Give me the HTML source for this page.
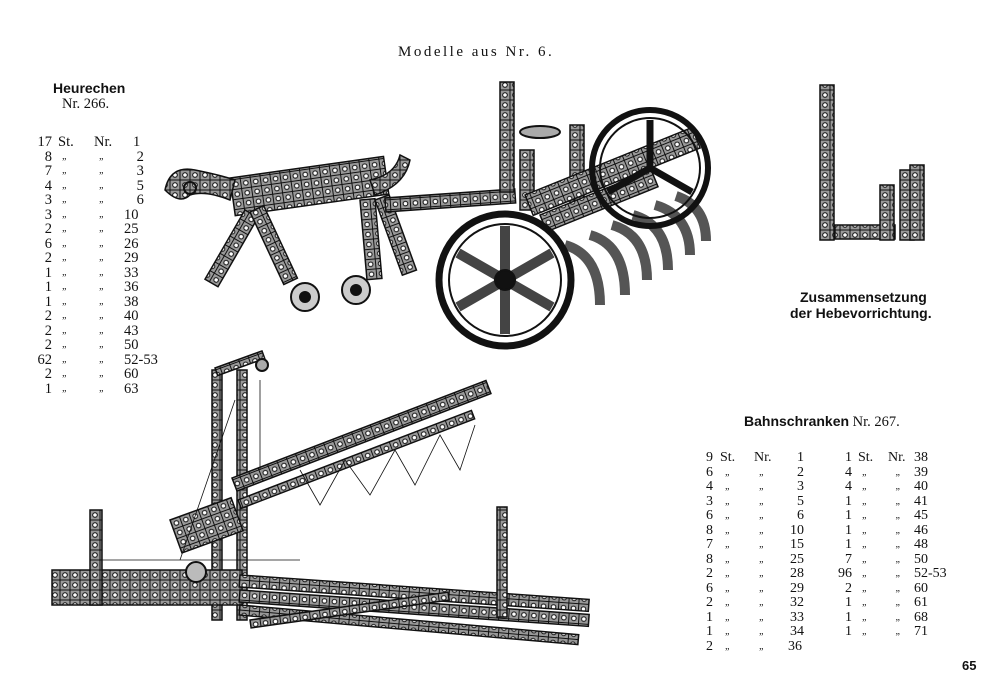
<!DOCTYPE html>
<html><head><meta charset="utf-8"><style>
body{margin:0;background:#fff;width:1000px;height:700px;position:relative;overflow:hidden;font-family:"Liberation Serif",serif;color:#111}
.t{position:absolute;white-space:pre;font-size:14.5px}
.b{font-family:"Liberation Sans",sans-serif;font-weight:bold}
table{position:absolute;border-collapse:collapse;font-size:14.5px}
td{padding:0;height:14.5px;line-height:14.5px}
.q{font-size:10px;font-style:italic}
</style></head><body>
<div class="t" style="left:398px;top:44px;letter-spacing:2.5px;font-size:15px">Modelle aus Nr. 6.</div>
<div class="t b" style="left:53px;top:80px;font-size:14px">Heurechen</div>
<div class="t" style="left:62px;top:96px">Nr. 266.</div>
<table style="left:34px;top:135px">
<tr><td style="width:18px;text-align:right">17</td><td style="width:36px;padding-left:6px">St.</td><td style="width:30px">Nr.</td><td style="padding-left:9px">1</td></tr>
<tr><td align=right>8</td><td class=q style="padding-left:10px">„</td><td class=q>&nbsp;&nbsp;„</td><td style="padding-left:9px">&nbsp;2</td></tr>
<tr><td align=right>7</td><td class=q style="padding-left:10px">„</td><td class=q>&nbsp;&nbsp;„</td><td style="padding-left:9px">&nbsp;3</td></tr>
<tr><td align=right>4</td><td class=q style="padding-left:10px">„</td><td class=q>&nbsp;&nbsp;„</td><td style="padding-left:9px">&nbsp;5</td></tr>
<tr><td align=right>3</td><td class=q style="padding-left:10px">„</td><td class=q>&nbsp;&nbsp;„</td><td style="padding-left:9px">&nbsp;6</td></tr>
<tr><td align=right>3</td><td class=q style="padding-left:10px">„</td><td class=q>&nbsp;&nbsp;„</td><td>10</td></tr>
<tr><td align=right>2</td><td class=q style="padding-left:10px">„</td><td class=q>&nbsp;&nbsp;„</td><td>25</td></tr>
<tr><td align=right>6</td><td class=q style="padding-left:10px">„</td><td class=q>&nbsp;&nbsp;„</td><td>26</td></tr>
<tr><td align=right>2</td><td class=q style="padding-left:10px">„</td><td class=q>&nbsp;&nbsp;„</td><td>29</td></tr>
<tr><td align=right>1</td><td class=q style="padding-left:10px">„</td><td class=q>&nbsp;&nbsp;„</td><td>33</td></tr>
<tr><td align=right>1</td><td class=q style="padding-left:10px">„</td><td class=q>&nbsp;&nbsp;„</td><td>36</td></tr>
<tr><td align=right>1</td><td class=q style="padding-left:10px">„</td><td class=q>&nbsp;&nbsp;„</td><td>38</td></tr>
<tr><td align=right>2</td><td class=q style="padding-left:10px">„</td><td class=q>&nbsp;&nbsp;„</td><td>40</td></tr>
<tr><td align=right>2</td><td class=q style="padding-left:10px">„</td><td class=q>&nbsp;&nbsp;„</td><td>43</td></tr>
<tr><td align=right>2</td><td class=q style="padding-left:10px">„</td><td class=q>&nbsp;&nbsp;„</td><td>50</td></tr>
<tr><td align=right>62</td><td class=q style="padding-left:10px">„</td><td class=q>&nbsp;&nbsp;„</td><td>52-53</td></tr>
<tr><td align=right>2</td><td class=q style="padding-left:10px">„</td><td class=q>&nbsp;&nbsp;„</td><td>60</td></tr>
<tr><td align=right>1</td><td class=q style="padding-left:10px">„</td><td class=q>&nbsp;&nbsp;„</td><td>63</td></tr>
</table>

<div class="t b" style="left:800px;top:289px;font-size:14px">Zusammensetzung</div>
<div class="t b" style="left:790px;top:305px;font-size:14px">der Hebevorrichtung.</div>
<div class="t" style="left:744px;top:413px"><span class="b" style="font-size:14px">Bahnschranken</span> Nr. 267.</div>

<table style="left:706px;top:451px;font-size:14px">
<tr><td style="width:14px">9</td><td style="width:34px">St.</td><td style="width:30px">Nr.</td><td style="width:20px;text-align:right">1</td></tr>
<tr><td>6</td><td class=q>&nbsp;&nbsp;„</td><td class=q>&nbsp;&nbsp;„</td><td align=right>2</td></tr>
<tr><td>4</td><td class=q>&nbsp;&nbsp;„</td><td class=q>&nbsp;&nbsp;„</td><td align=right>3</td></tr>
<tr><td>3</td><td class=q>&nbsp;&nbsp;„</td><td class=q>&nbsp;&nbsp;„</td><td align=right>5</td></tr>
<tr><td>6</td><td class=q>&nbsp;&nbsp;„</td><td class=q>&nbsp;&nbsp;„</td><td align=right>6</td></tr>
<tr><td>8</td><td class=q>&nbsp;&nbsp;„</td><td class=q>&nbsp;&nbsp;„</td><td align=right>10</td></tr>
<tr><td>7</td><td class=q>&nbsp;&nbsp;„</td><td class=q>&nbsp;&nbsp;„</td><td align=right>15</td></tr>
<tr><td>8</td><td class=q>&nbsp;&nbsp;„</td><td class=q>&nbsp;&nbsp;„</td><td align=right>25</td></tr>
<tr><td>2</td><td class=q>&nbsp;&nbsp;„</td><td class=q>&nbsp;&nbsp;„</td><td align=right>28</td></tr>
<tr><td>6</td><td class=q>&nbsp;&nbsp;„</td><td class=q>&nbsp;&nbsp;„</td><td align=right>29</td></tr>
<tr><td>2</td><td class=q>&nbsp;&nbsp;„</td><td class=q>&nbsp;&nbsp;„</td><td align=right>32</td></tr>
<tr><td>1</td><td class=q>&nbsp;&nbsp;„</td><td class=q>&nbsp;&nbsp;„</td><td align=right>33</td></tr>
<tr><td>1</td><td class=q>&nbsp;&nbsp;„</td><td class=q>&nbsp;&nbsp;„</td><td align=right>34</td></tr>
<tr><td>2</td><td class=q>&nbsp;&nbsp;„</td><td class=q>&nbsp;&nbsp;„</td><td style="padding-left:4px">36</td></tr>
</table>
<table style="left:836px;top:451px;font-size:14px">
<tr><td style="width:16px;text-align:right">1</td><td style="width:30px;padding-left:6px">St.</td><td style="width:26px">Nr.</td><td>38</td></tr>
<tr><td align=right>4</td><td class=q style="padding-left:10px">„</td><td class=q>&nbsp;&nbsp;&nbsp;„</td><td>39</td></tr>
<tr><td align=right>4</td><td class=q style="padding-left:10px">„</td><td class=q>&nbsp;&nbsp;&nbsp;„</td><td>40</td></tr>
<tr><td align=right>1</td><td class=q style="padding-left:10px">„</td><td class=q>&nbsp;&nbsp;&nbsp;„</td><td>41</td></tr>
<tr><td align=right>1</td><td class=q style="padding-left:10px">„</td><td class=q>&nbsp;&nbsp;&nbsp;„</td><td>45</td></tr>
<tr><td align=right>1</td><td class=q style="padding-left:10px">„</td><td class=q>&nbsp;&nbsp;&nbsp;„</td><td>46</td></tr>
<tr><td align=right>1</td><td class=q style="padding-left:10px">„</td><td class=q>&nbsp;&nbsp;&nbsp;„</td><td>48</td></tr>
<tr><td align=right>7</td><td class=q style="padding-left:10px">„</td><td class=q>&nbsp;&nbsp;&nbsp;„</td><td>50</td></tr>
<tr><td align=right>96</td><td class=q style="padding-left:10px">„</td><td class=q>&nbsp;&nbsp;&nbsp;„</td><td>52-53</td></tr>
<tr><td align=right>2</td><td class=q style="padding-left:10px">„</td><td class=q>&nbsp;&nbsp;&nbsp;„</td><td>60</td></tr>
<tr><td align=right>1</td><td class=q style="padding-left:10px">„</td><td class=q>&nbsp;&nbsp;&nbsp;„</td><td>61</td></tr>
<tr><td align=right>1</td><td class=q style="padding-left:10px">„</td><td class=q>&nbsp;&nbsp;&nbsp;„</td><td>68</td></tr>
<tr><td align=right>1</td><td class=q style="padding-left:10px">„</td><td class=q>&nbsp;&nbsp;&nbsp;„</td><td>71</td></tr>
</table>
<div class="t b" style="left:962px;top:658px;font-size:13px">65</div>

<svg width="1000" height="700" style="position:absolute;left:0;top:0" fill="none" stroke="#111">
<defs>
<pattern id="h" width="10" height="10" patternUnits="userSpaceOnUse"><rect width="10" height="10" fill="#999"/><circle cx="5" cy="5" r="2.3" fill="#fff"/></pattern>
</defs>
<g stroke-width="1.5" fill="url(#h)">
<rect x="230" y="178" width="155" height="38" transform="rotate(-8 230 178)"/>
<path d="M165 190 q5 -25 30 -20 q25 5 40 10 l-5 20 q-25 -10 -40 -5 q-10 10 -25 -5z"/>
<rect x="245" y="210" width="15" height="80" transform="rotate(30 245 210)"/>
<rect x="250" y="212" width="15" height="80" transform="rotate(-25 250 212)"/>
<rect x="360" y="200" width="15" height="80" transform="rotate(-5 360 200)"/>
<rect x="375" y="200" width="15" height="80" transform="rotate(-20 375 200)"/>
<path d="M370 180 q25 -5 30 -25 l10 5 q-5 25 -35 35z"/>
<rect x="385" y="198" width="130" height="14" transform="rotate(-4 385 198)"/>
<rect x="500" y="82" width="14" height="110"/>
<rect x="570" y="125" width="14" height="80"/>
<rect x="520" y="150" width="14" height="60"/>
<rect x="525" y="195" width="180" height="22" transform="rotate(-22 525 195)"/>
<rect x="540" y="215" width="120" height="18" transform="rotate(-22 540 215)"/>
<rect x="820" y="85" width="14" height="155"/>
<rect x="835" y="225" width="60" height="14" />
<rect x="880" y="185" width="14" height="55"/>
<rect x="900" y="170" width="14" height="70"/>
<rect x="910" y="165" width="14" height="75"/>
</g>
<g stroke-width="2">
<circle cx="190" cy="188" r="6"/>
<circle cx="305" cy="297" r="14" fill="#ccc"/><circle cx="305" cy="297" r="5" fill="#111"/>
<circle cx="356" cy="290" r="14" fill="#ccc"/><circle cx="356" cy="290" r="5" fill="#111"/>
<ellipse cx="540" cy="132" rx="20" ry="6" fill="#aaa"/>
<g stroke-width="10" stroke="#555">
<path d="M565 245 q35 10 35 60"/><path d="M590 235 q35 10 35 60"/><path d="M612 225 q35 10 35 55"/><path d="M633 215 q35 10 35 55"/><path d="M655 205 q35 10 35 50"/><path d="M676 196 q30 10 30 45"/>
</g>
<circle cx="650" cy="168" r="58" stroke-width="6" fill="none"/>
<circle cx="650" cy="168" r="50" stroke-width="2"/>
<g stroke-width="7"><path d="M650 168 l0 -48 M650 168 l42 24 M650 168 l-42 24"/></g>
<circle cx="505" cy="280" r="66" stroke-width="7" fill="#fff"/>
<circle cx="505" cy="280" r="56" stroke-width="2"/>
<g stroke-width="10" stroke="#444"><path d="M505 280 l0 -54 M505 280 l47 27 M505 280 l-47 27 M505 280 l47 -27 M505 280 l-47 -27 M505 280 l0 54"/></g>
<circle cx="505" cy="280" r="10" fill="#111"/>
</g>
<g stroke-width="1.5" fill="url(#h)">
<rect x="212" y="370" width="10" height="250"/>
<rect x="237" y="370" width="10" height="250"/>
<rect x="215" y="368" width="50" height="8" transform="rotate(-20 215 368)"/>
<rect x="232" y="478" width="272" height="14" transform="rotate(-21 232 478)"/>
<rect x="238" y="500" width="250" height="9" transform="rotate(-21 238 500)"/>
<rect x="52" y="570" width="190" height="35"/>
<rect x="90" y="510" width="12" height="95"/>
<rect x="170" y="520" width="65" height="35" transform="rotate(-20 170 520)"/>
<rect x="240" y="575" width="350" height="12" transform="rotate(4 240 575)"/>
<rect x="240" y="590" width="350" height="12" transform="rotate(4 240 590)"/>
<rect x="240" y="605" width="340" height="10" transform="rotate(5 240 605)"/>
<rect x="497" y="507" width="10" height="110"/>
<rect x="250" y="620" width="200" height="8" transform="rotate(-8 250 620)"/>
</g>
<g stroke-width="0.8">
<path d="M300 470 L320 505 L345 460 L370 495 L395 450 L415 485 L440 435 L460 470 L475 425"/>
<path d="M260 380 L260 470 M235 400 L180 560 M100 560 L300 560"/>
</g>
<circle cx="196" cy="572" r="10" stroke-width="2" fill="#bbb"/>
<circle cx="262" cy="365" r="6" stroke-width="2" fill="#aaa"/>
</svg>
</body></html>
